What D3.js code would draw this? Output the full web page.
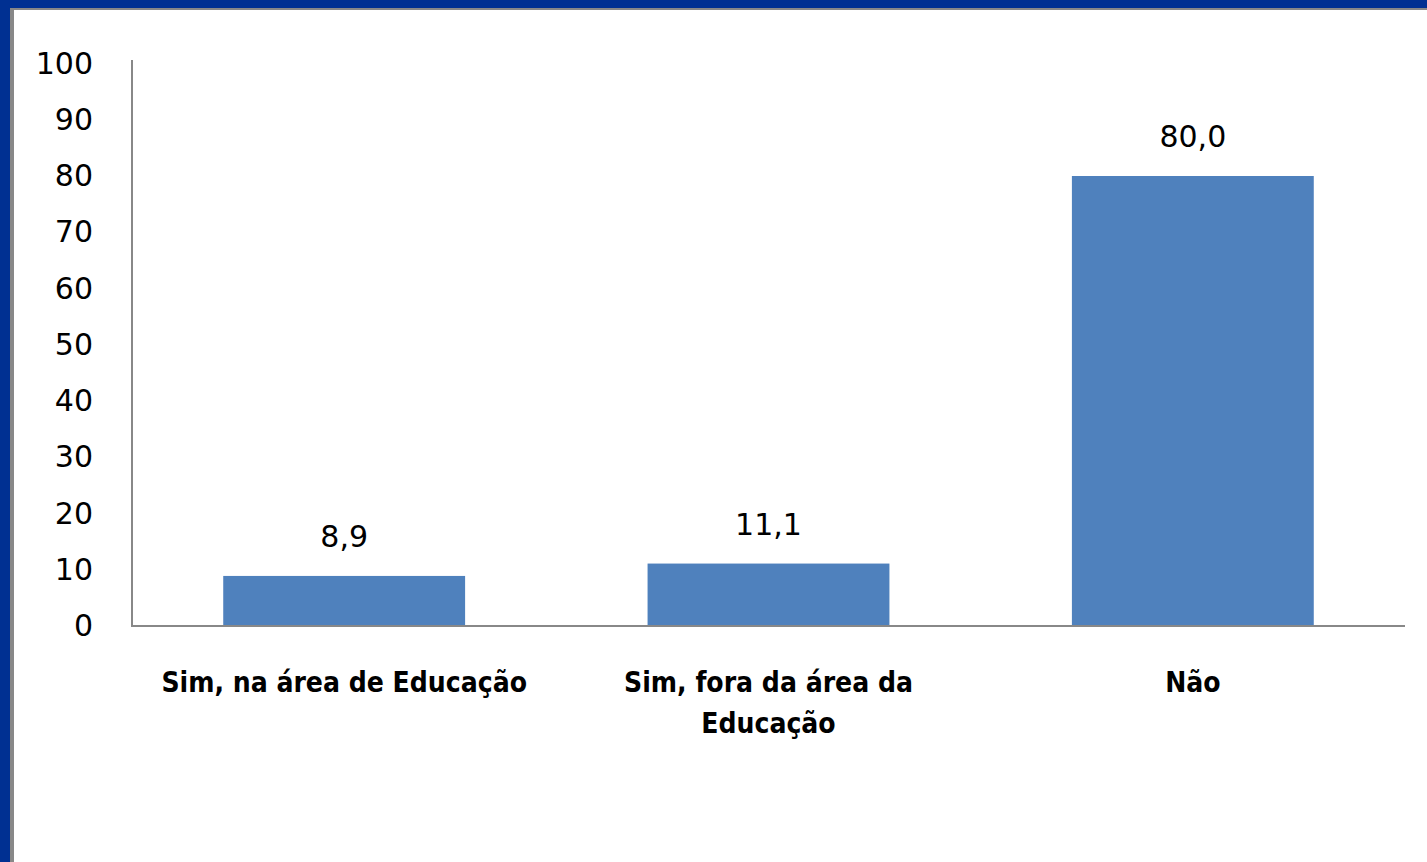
<!DOCTYPE html>
<html>
<head>
<meta charset="utf-8">
<script src="https://cdn.jsdelivr.net/npm/d3@7"></script>
<style>
  html, body { margin: 0; padding: 0; background: #003092; }
  svg { display: block; }
</style>
</head>
<body>
<script>
// chart data
const categories = [["Sim, na área de Educação"], ["Sim, fora da área da", "Educação"], ["Não"]];
const values = [8.9, 11.1, 80.0];
const valueLabels = ["8,9", "11,1", "80,0"];
const yTicks = [0, 10, 20, 30, 40, 50, 60, 70, 80, 90, 100];

const width = 1427, height = 862;
const plotLeft = 132, plotRight = 1405, plotBottom = 626, plotTop = 63.5;

const svg = d3.select("body").append("svg")
    .attr("width", width)
    .attr("height", height);

// frame: blue border with a grey inner edge
svg.append("rect").attr("x", 0).attr("y", 0).attr("width", width).attr("height", height).attr("fill", "#003092");
svg.append("rect").attr("x", 10).attr("y", 8).attr("width", width - 10).attr("height", height - 8).attr("fill", "#888888");
svg.append("rect").attr("x", 14).attr("y", 10).attr("width", width - 14).attr("height", height - 10).attr("fill", "#ffffff");

const x = d3.scaleBand()
    .domain(d3.range(values.length))
    .range([plotLeft, plotRight])
    .paddingInner(0.43)
    .paddingOuter(0.215);

const y = d3.scaleLinear().domain([0, 100]).range([plotBottom, plotTop]);

// bars
svg.selectAll(".bar")
    .data(values)
    .enter().append("rect")
    .attr("class", "bar")
    .attr("x", (d, i) => x(i))
    .attr("y", d => y(d))
    .attr("width", x.bandwidth())
    .attr("height", d => plotBottom - y(d))
    .attr("fill", "#4f81bd");

// value labels
svg.selectAll(".val")
    .data(values)
    .enter().append("text")
    .attr("class", "val")
    .attr("x", (d, i) => x(i) + x.bandwidth() / 2)
    .attr("y", d => y(d) - 29)
    .attr("text-anchor", "middle")
    .attr("font-family", "DejaVu Sans")
    .attr("font-size", 30)
    .attr("fill", "#000")
    .text((d, i) => valueLabels[i]);

// y axis
const yAxis = svg.append("g")
    .attr("transform", `translate(${plotLeft},0)`)
    .call(d3.axisLeft(y).tickValues(yTicks).tickSize(0).tickPadding(39).tickFormat(d3.format("d")));
yAxis.select(".domain").remove();
yAxis.selectAll("text")
    .attr("font-family", "DejaVu Sans")
    .attr("font-size", 30)
    .attr("fill", "#000");

svg.append("line")
    .attr("x1", plotLeft).attr("x2", plotLeft)
    .attr("y1", 60).attr("y2", plotBottom)
    .attr("stroke", "#888888").attr("stroke-width", 2);
svg.append("line")
    .attr("x1", plotLeft - 1).attr("x2", plotRight)
    .attr("y1", plotBottom).attr("y2", plotBottom)
    .attr("stroke", "#888888").attr("stroke-width", 2);

// category labels
const cat = svg.selectAll(".cat")
    .data(categories)
    .enter().append("text")
    .attr("class", "cat")
    .attr("text-anchor", "middle")
    .attr("font-family", "DejaVu Sans Condensed, DejaVu Sans")
    .attr("font-weight", "bold")
    .attr("font-size", 28)
    .attr("fill", "#000");

cat.selectAll("tspan")
    .data((d, i) => d.map(t => ({t: t, i: i})))
    .enter().append("tspan")
    .attr("x", d => x(d.i) + x.bandwidth() / 2)
    .attr("y", (d, j) => 692 + j * 41)
    .text(d => d.t);
</script>
</body>
</html>
